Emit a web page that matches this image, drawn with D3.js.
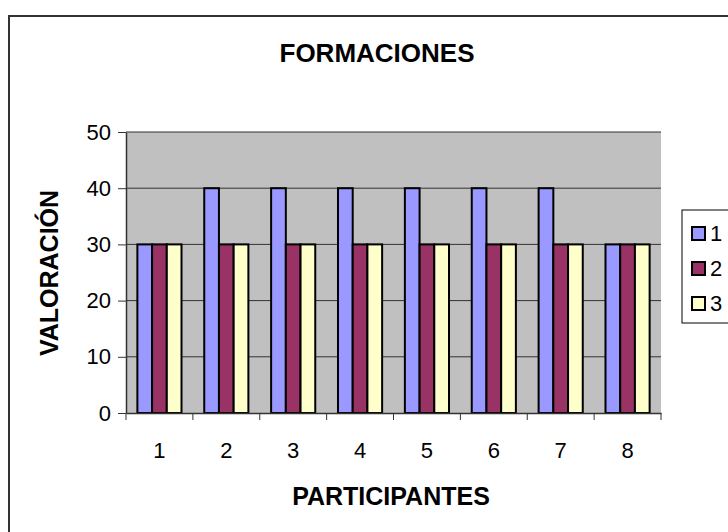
<!DOCTYPE html>
<html>
<head>
<meta charset="utf-8">
<script src="https://cdn.jsdelivr.net/npm/d3@7"></script>
<style>
  body { margin: 0; background: #fff; }
  svg text { font-family: "Liberation Sans", Arial, sans-serif; }
</style>
</head>
<body>
<div id="chart"></div>
<script>
// chart data
const participantes = ["1", "2", "3", "4", "5", "6", "7", "8"];
const serieNames = ["1", "2", "3"];
const serie1 = [30, 40, 40, 40, 40, 40, 40, 30];
const serie2 = [30, 30, 30, 30, 30, 30, 30, 30];
const serie3 = [30, 30, 30, 30, 30, 30, 30, 30];
const yTicks = [0, 10, 20, 30, 40, 50];

const colors = ["#9999FF", "#993366", "#FFFFCC"];
const series = [serie1, serie2, serie3];

const W = 728, H = 532;
const plot = { left: 126, top: 132, right: 661, bottom: 413 };

const svg = d3.select("#chart").append("svg")
    .attr("width", W)
    .attr("height", H);

// outer chart frame (runs off the right and bottom edges)
svg.append("rect")
    .attr("x", 9).attr("y", 16)
    .attr("width", W + 20).attr("height", H + 20)
    .attr("fill", "#fff")
    .attr("stroke", "#333")
    .attr("stroke-width", 2);

const x = d3.scaleBand()
    .domain(participantes)
    .range([plot.left, plot.right])
    .paddingInner(0.34)
    .paddingOuter(0.17);

const xSub = d3.scaleBand()
    .domain(d3.range(series.length))
    .range([0, x.bandwidth()]);

const y = d3.scaleLinear()
    .domain([0, 50])
    .range([plot.bottom, plot.top]);

// plot area background
svg.append("rect")
    .attr("x", plot.left).attr("y", plot.top)
    .attr("width", plot.right - plot.left)
    .attr("height", plot.bottom - plot.top)
    .attr("fill", "#C0C0C0");

// grid lines
svg.append("g")
    .selectAll("line")
    .data(yTicks.filter(d => d > 0))
    .enter()
    .append("line")
    .attr("x1", plot.left).attr("x2", plot.right)
    .attr("y1", d => y(d)).attr("y2", d => y(d))
    .attr("stroke", "#333")
    .attr("stroke-width", 1);

// bars
series.forEach((vals, i) => {
    svg.append("g")
        .selectAll("rect")
        .data(vals)
        .enter()
        .append("rect")
        .attr("x", (d, j) => x(participantes[j]) + xSub(i))
        .attr("y", d => y(d))
        .attr("width", xSub.bandwidth())
        .attr("height", d => plot.bottom - y(d))
        .attr("fill", colors[i])
        .attr("stroke", "#000")
        .attr("stroke-width", 2);
});

// y axis
const yAxis = svg.append("g")
    .attr("transform", `translate(${plot.left},0)`)
    .call(d3.axisLeft(y).tickValues(yTicks).tickSize(8).tickPadding(7).tickSizeOuter(0));
yAxis.select(".domain").attr("stroke", "#333").attr("stroke-width", 1.5);
yAxis.selectAll("line").attr("stroke", "#333");
yAxis.selectAll("text")
    .attr("font-size", 22)
    .attr("fill", "#000");

// x axis
const xAxis = svg.append("g")
    .attr("transform", `translate(0,${plot.bottom})`)
    .call(d3.axisBottom(x).tickSize(0).tickPadding(29).tickSizeOuter(0));
xAxis.select(".domain").attr("stroke", "#333").attr("stroke-width", 1.5);
xAxis.selectAll("text")
    .attr("font-size", 22)
    .attr("fill", "#000");
// tick marks between categories
const step = x.step();
xAxis.selectAll(".sep")
    .data(d3.range(participantes.length + 1))
    .enter()
    .append("line")
    .attr("x1", d => plot.left + d * step)
    .attr("x2", d => plot.left + d * step)
    .attr("y1", 0).attr("y2", 7)
    .attr("stroke", "#333");

// titles
svg.append("text")
    .attr("x", 377).attr("y", 62)
    .attr("text-anchor", "middle")
    .attr("font-size", 26)
    .attr("font-weight", "bold")
    .text("FORMACIONES");

svg.append("text")
    .attr("x", 391).attr("y", 505)
    .attr("text-anchor", "middle")
    .attr("font-size", 25)
    .attr("font-weight", "bold")
    .text("PARTICIPANTES");

svg.append("text")
    .attr("transform", "translate(58,273) rotate(-90)")
    .attr("text-anchor", "middle")
    .attr("font-size", 25)
    .attr("font-weight", "bold")
    .text("VALORACIÓN");

// legend
const legend = svg.append("g");
legend.append("rect")
    .attr("x", 682).attr("y", 210)
    .attr("width", 60).attr("height", 113)
    .attr("fill", "#fff")
    .attr("stroke", "#000")
    .attr("stroke-width", 1);

const items = legend.selectAll(".item")
    .data(serieNames)
    .enter()
    .append("g")
    .attr("transform", (d, i) => `translate(692,${233 + i * 35})`);
items.append("rect")
    .attr("x", 0).attr("y", -6)
    .attr("width", 13).attr("height", 13)
    .attr("fill", (d, i) => colors[i])
    .attr("stroke", "#000")
    .attr("stroke-width", 2);
items.append("text")
    .attr("x", 18).attr("y", 8)
    .attr("font-size", 22)
    .text(d => d);
</script>
</body>
</html>
